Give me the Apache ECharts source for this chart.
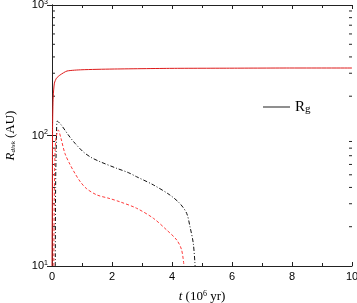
<!DOCTYPE html>
<html><head><meta charset="utf-8">
<script src="https://cdn.jsdelivr.net/npm/echarts@6/dist/echarts.min.js"></script>
<style>html,body{margin:0;padding:0;background:#fff}#c{width:357px;height:303px}</style>
</head><body><div id="c"></div>
<script>
// Rg (red solid)
const rgT = [0, 0.01, 0.02, 0.04, 0.08, 0.15, 0.27, 0.5, 1, 2, 4, 6, 8, 10];
const rgV = [10, 30, 120, 198, 252, 275, 291, 312, 319, 323, 327, 328, 329, 329];
// black dash-dot
const blackT = [0.11, 0.12, 0.15, 0.18, 0.3, 0.43, 0.6, 0.77, 1.04, 1.3, 1.6, 2.16, 2.54, 2.82, 3.38, 3.93, 4.27, 4.49, 4.6, 4.71, 4.77];
const blackV = [10, 40, 100, 129, 121, 110, 97, 87, 75, 68, 63, 56, 52, 48.3, 41.8, 35, 30, 25.3, 20, 14.9, 10];
// red dashed
const redT = [0.06, 0.08, 0.12, 0.21, 0.3, 0.43, 0.6, 0.77, 0.95, 1.16, 1.5, 1.9, 2.27, 2.82, 3.38, 3.82, 4.16, 4.32, 4.4];
const redV = [10, 40, 90, 110, 95, 73, 60, 51, 44, 39, 35, 33, 31, 27.7, 23.2, 18.9, 15.8, 13.3, 10];
// log minor tick values
const minorTickValues = [20, 30, 40, 50, 60, 70, 80, 90, 200, 300, 400, 500, 600, 700, 800, 900];
const xTickLabels = ['0', '2', '4', '6', '8', '10'];

const zip = (a, b) => a.map((t, i) => [t, b[i]]);
const sup = {'1': '1', '2': '2', '3': '3'};

const chart = echarts.init(document.getElementById('c'), null, {renderer: 'canvas'});
const axisCol = '#222';
chart.setOption({
  animation: false,
  backgroundColor: '#fff',
  grid: {left: 52, top: 5, right: 5, bottom: 37, containLabel: false, outerBoundsMode: 'none'},
  legend: {
    left: 258, top: 92,
    data: [{name: 'Rg', icon: 'rect'}],
    itemWidth: 27, itemHeight: 1.2,
    formatter: () => '{r|R}{g|g}',
    textStyle: {
      rich: {
        r: {fontFamily: 'Liberation Serif', fontSize: 15, color: '#000', lineHeight: 16},
        g: {fontFamily: 'Liberation Serif', fontSize: 11, color: '#000', verticalAlign: 'bottom', lineHeight: 16, padding: [7, 0, 0, 0]}
      }
    }
  },
  xAxis: [{
    type: 'value', min: 0, max: 10, interval: 2,
    axisLine: {show: true, lineStyle: {color: axisCol, width: 1}},
    axisTick: {show: true, inside: true, length: 4, lineStyle: {color: axisCol}},
    minorTick: {show: true, splitNumber: 2, length: 3, lineStyle: {color: axisCol}},
    splitLine: {show: false},
    axisLabel: {fontFamily: 'Liberation Sans', fontSize: 11, color: '#000', margin: 5,
      formatter: v => xTickLabels[Math.round(v / 2)]},
    name: '{i|t}{n| (10}{s|6}{n| yr)}',
    nameLocation: 'middle', nameGap: 24,
    nameTextStyle: {
      rich: {
        i: {fontFamily: 'Liberation Serif', fontStyle: 'italic', fontSize: 13, color: '#000'},
        n: {fontFamily: 'Liberation Serif', fontSize: 13, color: '#000'},
        s: {fontFamily: 'Liberation Serif', fontSize: 8, color: '#000', verticalAlign: 'top', padding: [0, 0, 6, 0]}
      }
    }
  }, {
    type: 'value', min: 0, max: 10, interval: 2, position: 'top',
    axisLine: {show: true, lineStyle: {color: axisCol, width: 1}},
    axisTick: {show: true, inside: true, length: 4, lineStyle: {color: axisCol}},
    minorTick: {show: true, splitNumber: 2, length: 3, lineStyle: {color: axisCol}},
    splitLine: {show: false},
    axisLabel: {show: false}
  }],
  yAxis: [{
    type: 'log', logBase: 10, min: 10, max: 1000,
    axisLine: {show: true, lineStyle: {color: axisCol, width: 1}},
    axisTick: {show: true, inside: true, length: 5, lineStyle: {color: axisCol}},
    splitLine: {show: false},
    axisLabel: {
      fontFamily: 'Liberation Sans', fontSize: 11, color: '#000', margin: 4,
      formatter: v => '{b|10}{s|' + sup[String(Math.round(Math.log10(v)))] + '}',
      rich: {
        b: {fontFamily: 'Liberation Sans', fontSize: 11, color: '#000'},
        s: {fontFamily: 'Liberation Sans', fontSize: 7, color: '#000', verticalAlign: 'top', padding: [0, 0, 6, 0]}
      }
    },
    name: '{i|R}{d|disk}{n| (AU)}',
    nameLocation: 'middle', nameGap: 35,
    nameTextStyle: {
      rich: {
        i: {fontFamily: 'Liberation Serif', fontStyle: 'italic', fontSize: 13, color: '#000'},
        d: {fontFamily: 'Liberation Serif', fontStyle: 'italic', fontSize: 7, color: '#000', padding: [6, 0, 0, 0]},
        n: {fontFamily: 'Liberation Serif', fontSize: 13, color: '#000'}
      }
    }
  }, {
    type: 'log', logBase: 10, min: 10, max: 1000, position: 'right',
    axisLine: {show: true, lineStyle: {color: axisCol, width: 1}},
    axisTick: {show: true, inside: true, length: 5, lineStyle: {color: axisCol}},
    splitLine: {show: false},
    axisLabel: {show: false}
  }],
  series: [
    {
      name: 'Rg', type: 'line', data: [], color: '#444',
      lineStyle: {color: '#444', width: 1}, showSymbol: false
    },
    {
      name: 'black', type: 'line', data: zip(blackT, blackV), smooth: 0.3,
      showSymbol: false, color: '#111',
      lineStyle: {color: '#111', width: 1, type: [4, 2, 1, 2]}
    },
    {
      name: 'red', type: 'line', data: zip(redT, redV), smooth: 0.3,
      showSymbol: false, color: '#ff3b3b',
      lineStyle: {color: '#ff3b3b', width: 1, type: [3, 2]}
    },
    {
      name: 'rg', type: 'line', data: zip(rgT, rgV), smooth: 0.2,
      showSymbol: false, color: '#dd1a1a',
      lineStyle: {color: '#dd1a1a', width: 1}
    },
    {
      name: 'minor', type: 'custom', silent: true,
      data: minorTickValues.map(v => [0, v]),
      renderItem: (params, api) => {
        const v = api.value(1);
        const pL = api.coord([0, v]);
        const pR = api.coord([10, v]);
        return {type: 'group', children: [
          {type: 'line', shape: {x1: pL[0], y1: pL[1], x2: pL[0] + 3, y2: pL[1]}, style: {stroke: axisCol, lineWidth: 1}},
          {type: 'line', shape: {x1: pR[0] - 3, y1: pR[1], x2: pR[0], y2: pR[1]}, style: {stroke: axisCol, lineWidth: 1}}
        ]};
      }
    }
  ]
});
</script></body></html>
